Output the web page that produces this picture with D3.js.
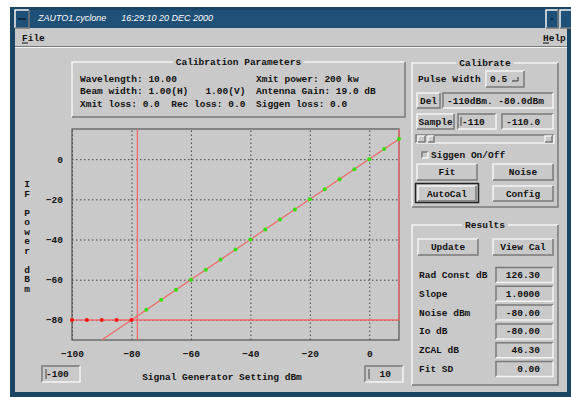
<!DOCTYPE html>
<html>
<head>
<meta charset="utf-8">
<script src="https://cdn.jsdelivr.net/npm/d3@7"></script>
<style>
  body { margin: 0; background: #fff; }
  svg text { font-family: "Liberation Mono", "DejaVu Sans Mono", monospace; font-weight: bold; font-size: 9.5px; fill: #111; white-space: pre; }
</style>
</head>
<body>
<div id="chart"></div>
<script>
// data
const sigGen = [-100, -95, -90, -85, -80, -75, -70, -65, -60, -55, -50, -45, -40, -35, -30, -25, -20, -15, -10, -5, 0, 5, 10];
const ifPower = [-80, -80, -80, -80, -80, -75, -70, -65, -60, -55, -50, -45, -40, -35, -30, -25, -20, -15, -10, -5, 0, 5, 10];
const noisePts = 5; // first points sit on the noise floor (red)
const xTicks = [-100, -80, -60, -40, -20, 0];
const yTicks = [0, -20, -40, -60, -80];
const fitLine = [[-90, -90], [10, 10]];
const noiseFloor = -80;
const lowLimit = -78;
const highLimit = 10;

const paramsLeft = ['Wavelength: 10.00', 'Beam width: 1.00(H)   1.00(V)', 'Xmit loss: 0.0  Rec loss: 0.0'];
const paramsRight = ['Xmit power: 200 kw', 'Antenna Gain: 19.0 dB', 'Siggen loss: 0.0'];
const resultLabels = ['Rad Const dB', 'Slope', 'Noise dBm', 'Io dB', 'ZCAL dB', 'Fit SD'];
const resultValues = ['126.30', '1.0000', '-80.00', '-80.00', '46.30', '0.00'];

const W = 571, H = 397;
const panel = '#c9c9c9', hi = '#f4f4f4', lo = '#7a7a7a', frame = '#1b4565';

const svg = d3.select('#chart').append('svg')
  .attr('width', W).attr('height', H);

// window frame
svg.append('rect').attr('x', 10).attr('y', 7).attr('width', W - 10).attr('height', H - 7).attr('fill', frame);
svg.append('rect').attr('x', 15).attr('y', 10).attr('width', W - 15).attr('height', 18).attr('fill', '#1f5077');
svg.append('rect').attr('x', 15).attr('y', 28).attr('width', 552).attr('height', 364).attr('fill', panel);

function raised(x, y, w, h, inset) {
  const g = svg.append('g');
  g.append('rect').attr('x', x).attr('y', y).attr('width', w).attr('height', h).attr('fill', panel);
  const a = inset ? lo : hi, b = inset ? hi : lo;
  g.append('path').attr('d', `M${x},${y + h}V${y}H${x + w}`).attr('fill', 'none').attr('stroke', a).attr('stroke-width', 1.5);
  g.append('path').attr('d', `M${x},${y + h}H${x + w}V${y}`).attr('fill', 'none').attr('stroke', b).attr('stroke-width', 1.5);
  return g;
}
function label(x, y, s, anchor) {
  return svg.append('text').attr('x', x).attr('y', y).attr('text-anchor', anchor || 'start').text(s);
}
function button(x, y, w, h, s) {
  raised(x, y, w, h, false);
  label(x + w / 2, y + h / 2 + 3, s, 'middle');
}
function field(x, y, w, h, s, anchor) {
  raised(x, y, w, h, true);
  if (anchor === 'end') label(x + w - 12, y + h / 2 + 3, s, 'end');
  else label(x + 4, y + h / 2 + 3, s);
}
function group(x, y, w, h, title) {
  raised(x, y, w, h, false);
  const cx = x + w / 2;
  const tw = title.length * 5.7 + 6;
  svg.append('rect').attr('x', cx - tw / 2).attr('y', y - 2).attr('width', tw).attr('height', 4).attr('fill', panel);
  label(cx, y + 3, title, 'middle');
}

// title bar
raised(15, 10, 14, 18, false).select('rect').attr('fill', '#1f5077');
svg.append('rect').attr('x', 18).attr('y', 18).attr('width', 8).attr('height', 2).attr('fill', '#0d2a40');
svg.append('text').attr('x', 38).attr('y', 21)
  .style('font-family', '"Liberation Sans", sans-serif').style('font-style', 'italic')
  .style('font-weight', 'normal').style('font-size', '9px').style('fill', '#fff')
  .text('ZAUTO1.cyclone      16:29:10 20 DEC 2000');
raised(546, 10, 12, 18, false).select('rect').attr('fill', '#1f5077');
svg.append('rect').attr('x', 551).attr('y', 18).attr('width', 2).attr('height', 2).attr('fill', '#0d2a40');
raised(560, 10, 14, 18, false).select('rect').attr('fill', '#1f5077');

// menu bar
label(22, 41, 'File');
svg.append('line').attr('x1', 22).attr('x2', 28).attr('y1', 43).attr('y2', 43).attr('stroke', '#111');
label(543, 41, 'Help');
svg.append('line').attr('x1', 543).attr('x2', 549).attr('y1', 43).attr('y2', 43).attr('stroke', '#111');
svg.append('line').attr('x1', 15).attr('x2', 567).attr('y1', 46.5).attr('y2', 46.5).attr('stroke', lo);
svg.append('line').attr('x1', 15).attr('x2', 567).attr('y1', 47.5).attr('y2', 47.5).attr('stroke', hi);

// calibration parameters
group(72, 62, 333, 55, 'Calibration Parameters');
paramsLeft.forEach((s, i) => label(80, 82 + i * 12.3, s));
paramsRight.forEach((s, i) => label(256, 82 + i * 12.3, s));

// plot
const x = d3.scaleLinear().domain([-100, 10]).range([72, 399]);
const y = d3.scaleLinear().domain([-90, 15]).range([340, 129]);

svg.append('g').attr('transform', 'translate(0,340)')
  .call(d3.axisBottom(x).tickValues(xTicks).tickSize(-211).tickPadding(11).tickFormat(d3.format('d')))
  .call(g => g.select('.domain').remove())
  .call(g => g.selectAll('line').attr('stroke', '#444').attr('stroke-dasharray', '1.5,2.5'))
  .call(g => g.selectAll('text').attr('font-family', null).attr('font-size', null).attr('dy', '0.6em'));
svg.append('g').attr('transform', 'translate(72,0)')
  .call(d3.axisLeft(y).tickValues(yTicks).tickSize(-327).tickPadding(9).tickFormat(d3.format('d')))
  .call(g => g.select('.domain').remove())
  .call(g => g.selectAll('line').attr('stroke', '#444').attr('stroke-dasharray', '1.5,2.5'))
  .call(g => g.selectAll('text').attr('font-family', null).attr('font-size', null));
svg.append('rect').attr('x', 72).attr('y', 129).attr('width', 327).attr('height', 211)
  .attr('fill', 'none').attr('stroke', '#555').attr('stroke-width', 1.2);

const red = '#f26a6a';
svg.append('line').attr('x1', x(lowLimit)).attr('x2', x(lowLimit)).attr('y1', y(15)).attr('y2', y(-90)).attr('stroke', red).attr('stroke-width', 1.3);
svg.append('line').attr('x1', x(highLimit)).attr('x2', x(highLimit)).attr('y1', y(15)).attr('y2', y(noiseFloor)).attr('stroke', red).attr('stroke-width', 1.3);
svg.append('line').attr('x1', x(-100)).attr('x2', x(10)).attr('y1', y(noiseFloor)).attr('y2', y(noiseFloor)).attr('stroke', red).attr('stroke-width', 1.5);
svg.append('path').datum(fitLine)
  .attr('d', d3.line().x(d => x(d[0])).y(d => y(d[1])))
  .attr('stroke', red).attr('stroke-width', 1.3).attr('fill', 'none');

svg.selectAll('circle.pt').data(sigGen).enter().append('circle')
  .attr('class', 'pt')
  .attr('cx', d => x(d))
  .attr('cy', (d, i) => y(ifPower[i]))
  .attr('r', 2)
  .attr('fill', (d, i) => i < noisePts ? '#ff1010' : '#33e000');

// axis titles
'IF Power dBm'.split('').forEach((c, i) => label(27, 187 + i * 9.5, c, 'middle'));
label(222, 380, 'Signal Generator Setting dBm', 'middle');
field(42, 366, 38, 16, '-100');
svg.append('line').attr('x1', 46).attr('x2', 46).attr('y1', 369).attr('y2', 379).attr('stroke', '#444');
field(365, 366, 38, 16, '10', 'end');
svg.append('line').attr('x1', 369).attr('x2', 369).attr('y1', 369).attr('y2', 379).attr('stroke', '#444');

// calibrate group
group(412, 63, 146, 144, 'Calibrate');
label(418, 82, 'Pulse Width');
raised(486, 71, 38, 16, false);
label(490, 82, '0.5');
svg.append('path').attr('d', 'M512,81H518V77').attr('fill', 'none').attr('stroke', '#333');
button(417, 93, 23, 15, 'Del');
field(443, 93, 110, 15, '-110dBm. -80.0dBm');
button(417, 114, 37, 15, 'Sample');
field(458, 114, 38, 15, '-110');
svg.append('line').attr('x1', 461).attr('x2', 461).attr('y1', 117).attr('y2', 126).attr('stroke', '#444');
field(502, 114, 51, 15, '-110.0');
raised(416, 135, 138, 8, true);
raised(418, 136, 7, 6, false);
raised(428, 136, 6, 6, false);
raised(545, 136, 7, 6, false);
raised(422, 152, 6, 6, true);
label(431, 158, 'Siggen On/Off');
button(417, 164, 60, 16, 'Fit');
button(493, 164, 60, 16, 'Noise');
svg.append('rect').attr('x', 415.5).attr('y', 183.5).attr('width', 63).attr('height', 19).attr('fill', 'none').attr('stroke', '#222').attr('stroke-width', 1.5);
button(418, 186, 58, 15, 'AutoCal');
button(493, 186, 60, 15, 'Config');

// results group
group(412, 225, 146, 160, 'Results');
button(418, 239, 60, 16, 'Update');
button(493, 239, 60, 16, 'View Cal');
resultLabels.forEach((s, i) => {
  const cy = 275 + i * 18.8;
  label(419, cy + 3, s);
  raised(496, cy - 7.5, 57, 15, true);
  label(540, cy + 3, resultValues[i], 'end');
});
</script>
</body>
</html>
